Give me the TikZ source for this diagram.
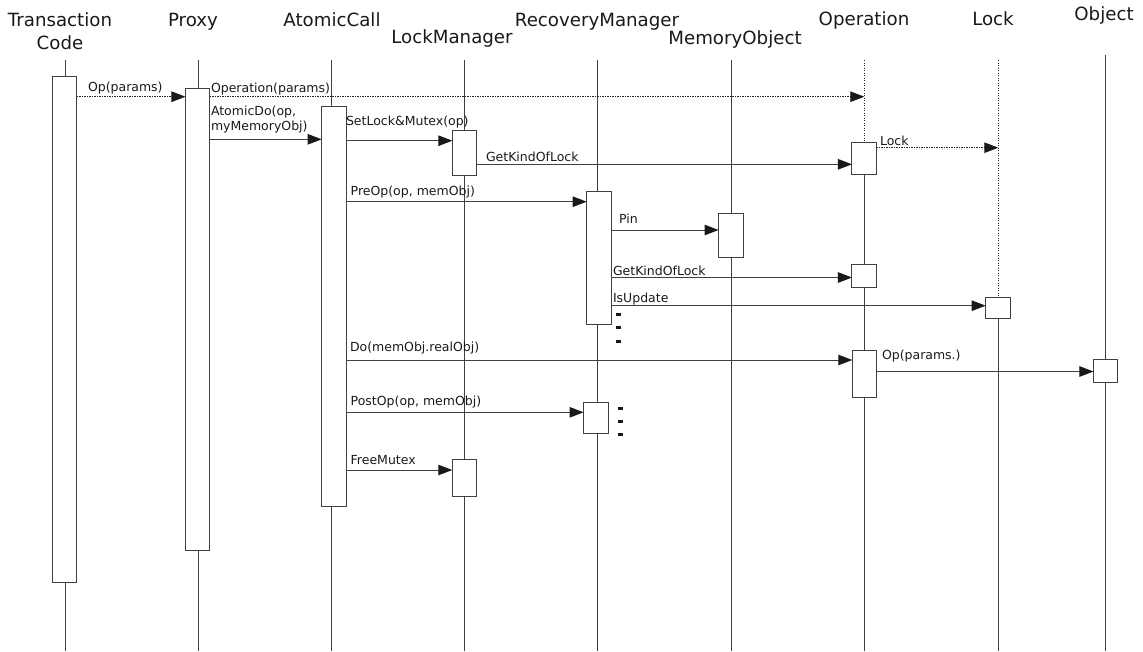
\documentclass[tikz,border=0pt]{standalone}
\usepackage{fontspec}
\setmainfont{DejaVu Sans}
\usetikzlibrary{arrows.meta}
\pgfdeclarelayer{lines}
\pgfsetlayers{lines,main}

\begin{document}
\begin{tikzpicture}[x=1pt,y=-1pt,
  every node/.style={inner sep=0pt, outer sep=0pt},
  header/.style={font=\fontsize{18.2}{22.8}\selectfont, anchor=base, align=center, text=black!90},
  lbl/.style={font=\fontsize{12.5}{15}\selectfont, anchor=west, align=left, text=black!90},
  life/.style={draw=black!75, line width=1pt},
  lifedot/.style={draw=black!85, line width=1pt, dash pattern=on 1.4pt off 1.1pt},
  act/.style={draw=black!75, fill=white, line width=1pt, minimum width=24.5pt},
  msg/.style={draw=black!75, line width=1pt, -{Triangle[length=14pt,width=10.5pt,color=black!90]}},
  async/.style={msg, draw=black!85, dash pattern=on 1.4pt off 1.1pt},
  cont/.style={fill=black!90, minimum width=5pt, minimum height=3pt},
]
\useasboundingbox (0,0) rectangle (1143,651);

% participant names
\node[header] (hTC) at (60,49.3)   {Transaction\\Code};
\node[header] (hPX) at (193,26.5)  {Proxy};
\node[header] (hAC) at (332,26.5)  {AtomicCall};
\node[header] (hLM) at (452,43)    {LockManager};
\node[header] (hRM) at (597,26)    {RecoveryManager};
\node[header] (hMO) at (735,44)    {MemoryObject};
\node[header] (hOP) at (864,25)    {Operation};
\node[header] (hLK) at (993,25)    {Lock};
\node[header] (hOB) at (1104,20)   {Object};

% lifeline ends
\coordinate (tcTop) at (65,60);     \coordinate (tcBot) at (65,651);
\coordinate (pxTop) at (198,60);    \coordinate (pxBot) at (198,651);
\coordinate (acTop) at (331,60);    \coordinate (acBot) at (331,651);
\coordinate (lmTop) at (464.3,60);  \coordinate (lmBot) at (464.3,651);
\coordinate (rmTop) at (597.7,60);  \coordinate (rmBot) at (597.7,651);
\coordinate (moTop) at (731,60);    \coordinate (moBot) at (731,651);
\coordinate (opTop) at (864.3,60);  \coordinate (opBot) at (864.3,651);
\coordinate (lkTop) at (998.3,60);  \coordinate (lkBot) at (998.3,651);
\coordinate (obTop) at (1105.7,55); \coordinate (obBot) at (1105.7,651);

% activation boxes
\path
  node[act, minimum height=506pt]   (tc)  at (64.5,329)   {}
  node[act, minimum height=461.7pt] (px)  at (197.7,319.2) {}
  node[act, minimum height=400.2pt] (ac)  at (333.9,306.4) {}
  node[act, minimum height=45pt]    (lm1) at (464.6,152.5) {}
  node[act, minimum height=37.7pt]  (lm2) at (464.5,477.9) {}
  node[act, minimum height=133pt]   (rm1) at (598.9,257.5) {}
  node[act, minimum height=31pt]    (rm2) at (595.8,417.8) {}
  node[act, minimum height=44pt]    (mo)  at (730.8,235)   {}
  node[act, minimum height=31.7pt]  (op1) at (864.2,158.2) {}
  node[act, minimum height=23.7pt]  (op2) at (864.2,275.9) {}
  node[act, minimum height=46.3pt]  (op3) at (864.5,373.9) {}
  node[act, minimum height=20.6pt]  (lk)  at (997.9,308)   {}
  node[act, minimum height=23.7pt]  (ob)  at (1105.7,370.9) {};

% lifelines, behind the boxes
\begin{pgfonlayer}{lines}
  \draw[life] (tcTop) -- (tcBot);
  \draw[life] (pxTop) -- (pxBot);
  \draw[life] (acTop) -- (acBot);
  \draw[life] (lmTop) -- (lmBot);
  \draw[life] (rmTop) -- (rmBot);
  \draw[life] (moTop) -- (moBot);
  \draw[lifedot] (opTop) -- (opTop |- op1.north);
  \draw[life] (opTop |- op1.south) -- (opBot);
  \draw[lifedot] (lkTop) -- (lkTop |- lk.north);
  \draw[life] (lkTop |- lk.south) -- (lkBot);
  \draw[life] (obTop) -- (obBot);
\end{pgfonlayer}

% messages
\draw[async] (tc.east |- 0,96.7) -- (px.west |- 0,96.7);
\node[lbl] (mOp) at (88,88.5) {Op(params)};

\draw[async] (px.east |- 0,96.7) -- (opTop |- 0,96.7);
\node[lbl] (mOperation) at (211,89) {Operation(params)};

\draw[msg] (px.east |- 0,139.3) -- (ac.west |- 0,139.3);
\node[lbl] (mAtomicDo) at (211,119.2) {AtomicDo(op,\\myMemoryObj)};

\draw[msg] (ac.east |- 0,140.7) -- (lm1.west |- 0,140.7);
\node[lbl] (mSetLock) at (346,121.7) {SetLock\&Mutex(op)};

\draw[msg] (lm1.east |- 0,164.3) -- (op1.west |- 0,164.3);
\node[lbl] (mKind1) at (486,156.5) {GetKindOfLock};

\draw[async] (op1.east |- 0,147.7) -- (lkTop |- 0,147.7);
\node[lbl] (mLock) at (880,140.7) {Lock};

\draw[msg] (ac.east |- 0,201.7) -- (rm1.west |- 0,201.7);
\node[lbl] (mPreOp) at (350.7,191.7) {PreOp(op, memObj)};

\draw[msg] (rm1.east |- 0,230) -- (mo.west |- 0,230);
\node[lbl] (mPin) at (619,219) {Pin};

\draw[msg] (rm1.east |- 0,277.5) -- (op2.west |- 0,277.5);
\node[lbl] (mKind2) at (613,271) {GetKindOfLock};

\draw[msg] (rm1.east |- 0,305.7) -- (lk.west |- 0,305.7);
\node[lbl] (mIsUpdate) at (613,299) {IsUpdate};

\draw[msg] (ac.east |- 0,360) -- (op3.west |- 0,360);
\node[lbl] (mDo) at (350,347.7) {Do(memObj.realObj)};

\draw[msg] (op3.east |- 0,371.5) -- (ob.west |- 0,371.5);
\node[lbl] (mOpP) at (882,356) {Op(params.)};

\draw[msg] (ac.east |- 0,412.3) -- (rm2.west |- 0,412.3);
\node[lbl] (mPostOp) at (350.7,401.7) {PostOp(op, memObj)};

\draw[msg] (ac.east |- 0,470) -- (lm2.west |- 0,470);
\node[lbl] (mFree) at (350.7,460) {FreeMutex};

% continuation marks
\node[cont] (c1) at (618.7,314) {};
\node[cont] (c2) at (618.7,327.7) {};
\node[cont] (c3) at (618.7,341) {};
\node[cont] (c4) at (620,408.3) {};
\node[cont] (c5) at (620,421.7) {};
\node[cont] (c6) at (620,434.3) {};
\end{tikzpicture}
\end{document}
